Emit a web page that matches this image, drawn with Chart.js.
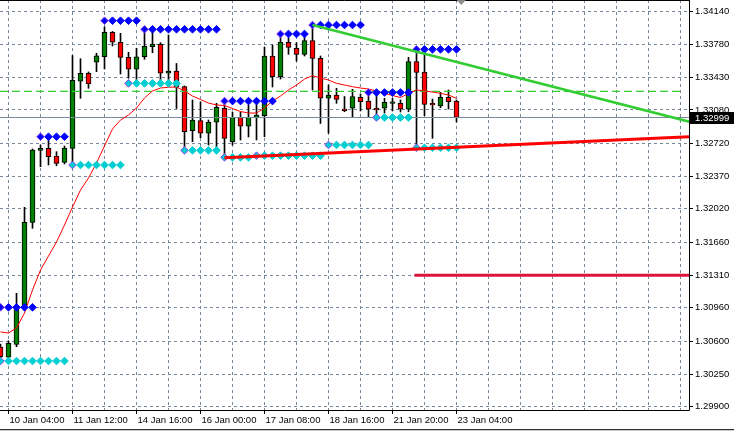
<!DOCTYPE html>
<html>
<head>
<meta charset="utf-8">
<title>H4 chart</title>
<script src="https://cdn.jsdelivr.net/npm/chart.js@4.4.1/dist/chart.umd.min.js"></script>
<style>
  html, body { margin: 0; padding: 0; background: #fff; overflow: hidden; }
  #wrap { position: relative; width: 734px; height: 431px; }
</style>
</head>
<body>
<div id="wrap"><canvas id="chart" width="734" height="431"></canvas></div>
<script>
// H4 candles, bar 0 = 10 Jan 00:00
const opens = [1.30540, 1.30432, 1.30569, 1.30982, 1.31876, 1.32647, 1.32669, 1.32586, 1.32519, 1.32669,
  1.33387, 1.33473, 1.33591, 1.33650, 1.33912, 1.33805, 1.33644, 1.33516, 1.33650, 1.33758,
  1.33783, 1.33473, 1.33497, 1.33329, 1.32858, 1.32965, 1.32830, 1.32948, 1.33098, 1.32740,
  1.33001, 1.32905, 1.33001, 1.33018, 1.33658, 1.33436, 1.33805, 1.33741, 1.33676, 1.33824,
  1.33633, 1.33205, 1.33240, 1.33088, 1.33098, 1.33215, 1.33176, 1.33098, 1.33098, 1.33151,
  1.33151, 1.33087, 1.33599, 1.33487, 1.33151, 1.33122, 1.33215, 1.33176];
const highs = [1.30572, 1.30607, 1.31115, 1.32037, 1.32662, 1.32704, 1.32758, 1.32633, 1.32694, 1.33663,
  1.33629, 1.33487, 1.33687, 1.33969, 1.33921, 1.33901, 1.33698, 1.33741, 1.33912, 1.33937,
  1.33801, 1.33883, 1.33578, 1.33337, 1.33187, 1.33168, 1.32972, 1.33151, 1.33140, 1.33058,
  1.33058, 1.33133, 1.33151, 1.33754, 1.33776, 1.33883, 1.33851, 1.33801, 1.33904, 1.33979,
  1.33658, 1.33347, 1.33312, 1.33224, 1.33301, 1.33251, 1.33245, 1.33240, 1.33205, 1.33205,
  1.33187, 1.33644, 1.33722, 1.33701, 1.33197, 1.33269, 1.33294, 1.33187];
const lows = [1.30404, 1.30404, 1.30543, 1.30958, 1.31812, 1.32472, 1.32490, 1.32482, 1.32501, 1.32512,
  1.33205, 1.33312, 1.33490, 1.33519, 1.33765, 1.33465, 1.33419, 1.33358, 1.33623, 1.33693,
  1.33385, 1.33347, 1.33095, 1.32686, 1.32740, 1.32782, 1.32704, 1.32658, 1.32576, 1.32704,
  1.32758, 1.32790, 1.32758, 1.32793, 1.33326, 1.33411, 1.33676, 1.33604, 1.33658, 1.33294,
  1.32935, 1.32830, 1.33151, 1.33061, 1.33008, 1.33069, 1.33004, 1.33026, 1.33047, 1.33069,
  1.33058, 1.33061, 1.32694, 1.33018, 1.32776, 1.33104, 1.33090, 1.32951];
const closes = [1.30436, 1.30580, 1.30947, 1.31876, 1.32651, 1.32669, 1.32579, 1.32508, 1.32672, 1.33398,
  1.33473, 1.33358, 1.33661, 1.33912, 1.33805, 1.33644, 1.33516, 1.33650, 1.33762, 1.33786,
  1.33473, 1.33497, 1.33323, 1.32847, 1.32972, 1.32830, 1.32948, 1.33108, 1.32776, 1.33001,
  1.32905, 1.33001, 1.33026, 1.33658, 1.33436, 1.33808, 1.33751, 1.33676, 1.33824, 1.33633,
  1.33205, 1.33240, 1.33194, 1.33072, 1.33224, 1.33168, 1.33087, 1.33080, 1.33162, 1.33168,
  1.33087, 1.33597, 1.33483, 1.33140, 1.33133, 1.33215, 1.33168, 1.32999];
// moving average (thin red line)
const maValues = [1.30701, 1.30690, 1.30744, 1.30904, 1.31151, 1.31365, 1.31515, 1.31665, 1.31847, 1.32040,
  1.32222, 1.32351, 1.32512, 1.32694, 1.32876, 1.32972, 1.33026, 1.33101, 1.33208, 1.33283,
  1.33315, 1.33323, 1.33326, 1.33283, 1.33229, 1.33192, 1.33154, 1.33133, 1.33128, 1.33095,
  1.33063, 1.33047, 1.33047, 1.33101, 1.33176, 1.33229, 1.33294, 1.33347, 1.33411, 1.33447,
  1.33422, 1.33401, 1.33365, 1.33347, 1.33329, 1.33315, 1.33304, 1.33283, 1.33258, 1.33235,
  1.33213, 1.33256, 1.33294, 1.33283, 1.33272, 1.33258, 1.33240, 1.33205];

// resistance rows (blue) and support rows (cyan): level, first bar, last bar
const resLevels = [1.30965, 1.32793, 1.34036, 1.33944, 1.33175, 1.33894, 1.33990, 1.33267, 1.33729];
const resFrom = [0, 5, 13, 18, 28, 35, 39, 46, 52];
const resTo = [4, 8, 17, 27, 34, 38, 45, 51, 57];
const supLevels = [1.30390, 1.32490, 1.33365, 1.32647, 1.32572, 1.32590, 1.32705, 1.32999, 1.32675];
const supFrom = [0, 9, 16, 23, 28, 32, 41, 47, 52];
const supTo = [8, 15, 22, 27, 31, 40, 46, 51, 57];

// drawn objects
const dashLevel = 1.33278;
const redLevel = 1.31310;
const redLevelBars = [51.75, 87];
const greenTrendBars = [39, 86.5];
const greenTrendPrices = [1.33990, 1.32945];
const redTrendBars = [28, 86.5];
const redTrendPrices = [1.32568, 1.32795];

const timeLabels = ['10 Jan 04:00', '11 Jan 12:00', '14 Jan 16:00', '16 Jan 00:00',
  '17 Jan 08:00', '18 Jan 16:00', '21 Jan 20:00', '23 Jan 04:00'];
const timeLabelBars = [1, 9, 17, 25, 33, 41, 49, 57];
const gridBars = [1, 5, 9, 13, 17, 21, 25, 29, 33, 37, 41, 45, 49, 53, 57, 61, 65, 69, 73, 77, 81, 85];
const priceTicks = [1.34140, 1.33780, 1.33430, 1.33080, 1.32720, 1.32370, 1.32020,
  1.31660, 1.31310, 1.30960, 1.30600, 1.30250, 1.29900];

const X_MIN = -0.0625, X_MAX = 86.0625;
const Y_MIN = 1.29865, Y_MAX = 1.34258;
const FONT = { family: '"Liberation Sans", Arial, sans-serif', size: 9.5 };
const GRID = '#778899';

function labelFor(v) {
  const k = timeLabelBars.indexOf(v);
  return k >= 0 ? timeLabels[k] : '';
}

function rows(levels, from, to) {
  const pts = [];
  levels.forEach((lv, r) => {
    for (let b = from[r]; b <= to[r]; b++) pts.push({ x: b, y: lv, first: b === from[r] });
  });
  return pts;
}

const idx = opens.map((_, i) => i);
const bodyColors = idx.map(i => closes[i] >= opens[i] ? '#008000' : '#ff0000');
const resPts = rows(resLevels, resFrom, resTo);
const supPts = rows(supLevels, supFrom, supTo);
const lastClose = closes[closes.length - 1];

function hline(y, x0, x1) { return [{ x: x0, y }, { x: x1, y }]; }

const chartFrame = {
  id: 'chartFrame',
  afterDraw(chart) {
    const { ctx, chartArea: a, scales } = chart;
    ctx.save();
    ctx.strokeStyle = '#000';
    ctx.lineWidth = 1;
    ctx.beginPath();
    ctx.moveTo(0, 0.5); ctx.lineTo(a.right + 0.5, 0.5);
    ctx.moveTo(a.right + 0.5, 0); ctx.lineTo(a.right + 0.5, a.bottom + 0.5);
    ctx.moveTo(0, a.bottom + 0.5); ctx.lineTo(a.right + 0.5, a.bottom + 0.5);
    ctx.stroke();
    ctx.strokeStyle = '#303030';
    ctx.beginPath(); ctx.moveTo(0, 429.5); ctx.lineTo(734, 429.5); ctx.stroke();
    ctx.strokeStyle = '#c8c8c8';
    ctx.beginPath(); ctx.moveTo(0, 430.5); ctx.lineTo(734, 430.5); ctx.stroke();

    // chart shift marker
    const sx = scales.x.getPixelForValue(closes.length - 0.4);
    ctx.fillStyle = '#8c8c8c';
    ctx.beginPath(); ctx.moveTo(sx - 4.5, 0); ctx.lineTo(sx + 4.5, 0); ctx.lineTo(sx, 5); ctx.closePath(); ctx.fill();

    // bid price label
    const py = Math.round(scales.y.getPixelForValue(lastClose));
    ctx.fillStyle = '#000';
    ctx.fillRect(a.right + 1, py - 6, 734 - a.right - 1, 12);
    ctx.fillStyle = '#fff';
    ctx.font = `${FONT.size}px ${FONT.family}`;
    ctx.textBaseline = 'middle';
    ctx.fillText(lastClose.toFixed(5), a.right + 6, py + 0.5);
    ctx.restore();
  }
};

new Chart(document.getElementById('chart'), {
  type: 'bar',
  data: {
    datasets: [
      { type: 'line', label: 'green trend', order: 0,
        data: greenTrendBars.map((b, k) => ({ x: b, y: greenTrendPrices[k] })),
        borderColor: '#32cd32', borderWidth: 2.5, pointRadius: 0 },
      { type: 'line', label: 'red trend', order: 1,
        data: redTrendBars.map((b, k) => ({ x: b, y: redTrendPrices[k] })),
        borderColor: '#ff0000', borderWidth: 3, pointRadius: 0 },
      { type: 'line', label: 'level', order: 2, data: hline(redLevel, redLevelBars[0], redLevelBars[1]),
        borderColor: '#dc143c', borderWidth: 3, pointRadius: 0 },
      { type: 'line', label: 'resistance', order: 3, data: resPts, showLine: false,
        pointStyle: 'rectRot', pointRadius: 3.8, pointBackgroundColor: '#0000ff',
        pointBorderColor: resPts.map(p => p.first ? '#9a3cf0' : '#0000ff'), pointBorderWidth: 1 },
      { type: 'line', label: 'support', order: 4, data: supPts, showLine: false,
        pointStyle: 'rectRot', pointRadius: 3.8, pointBackgroundColor: '#00ced1',
        pointBorderColor: supPts.map(p => p.first ? '#9a3cf0' : '#00ced1'), pointBorderWidth: 1 },
      { type: 'line', label: 'MA', order: 5, data: idx.map(i => ({ x: i, y: maValues[i] })),
        borderColor: '#ff0000', borderWidth: 1, pointRadius: 0, tension: 0 },
      { type: 'line', label: 'dash level', order: 6, data: hline(dashLevel, X_MIN, 85.4),
        borderColor: '#32cd32', borderWidth: 1.2, borderDash: [8, 4], pointRadius: 0 },
      { type: 'line', label: 'bid', order: 7, data: hline(lastClose, X_MIN, X_MAX + 1),
        borderColor: '#778899', borderWidth: 1, pointRadius: 0 },
      { label: 'body', order: 8, grouped: false, barThickness: 5,
        data: idx.map(i => ({ x: i, y: [opens[i], closes[i]] })),
        backgroundColor: bodyColors, borderColor: '#000', borderWidth: 1, borderSkipped: false },
      { label: 'wick', order: 9, grouped: false, barThickness: 1,
        data: idx.map(i => ({ x: i, y: [lows[i], highs[i]] })),
        backgroundColor: '#000', borderWidth: 0 }
    ]
  },
  options: {
    responsive: false,
    animation: false,
    devicePixelRatio: 1,
    layout: { padding: 0, autoPadding: false },
    plugins: { legend: { display: false }, tooltip: { enabled: false } },
    scales: {
      x: {
        type: 'linear', min: X_MIN, max: X_MAX, offset: false,
        afterBuildTicks: s => { s.ticks = gridBars.map(v => ({ value: v })); },
        afterFit: s => { s.height = 21; s.paddingLeft = 0; s.paddingRight = 0; },
        grid: { offset: false, color: GRID, lineWidth: 1, drawTicks: true, tickLength: 4,
          tickColor: c => (c.tick && labelFor(c.tick.value)) ? '#000' : 'rgba(0,0,0,0)', tickBorderDash: [] },
        border: { display: false, dash: [3, 3] },
        ticks: { autoSkip: false, maxRotation: 0, align: 'start', padding: 1, labelOffset: 1,
          color: '#000', font: FONT, callback: v => labelFor(v) }
      },
      y: {
        type: 'linear', position: 'right', min: Y_MIN, max: Y_MAX,
        afterBuildTicks: s => { s.ticks = priceTicks.map(v => ({ value: v })); },
        afterFit: s => { s.width = 45; s.paddingTop = 0; s.paddingBottom = 0; },
        grid: { color: GRID, lineWidth: 1, drawTicks: true, tickLength: 4, tickColor: '#000', tickBorderDash: [] },
        border: { display: false, dash: [3, 3] },
        ticks: { padding: 2, color: '#000', font: FONT, callback: v => v.toFixed(5) }
      }
    }
  },
  plugins: [chartFrame]
});
</script>
</body>
</html>
